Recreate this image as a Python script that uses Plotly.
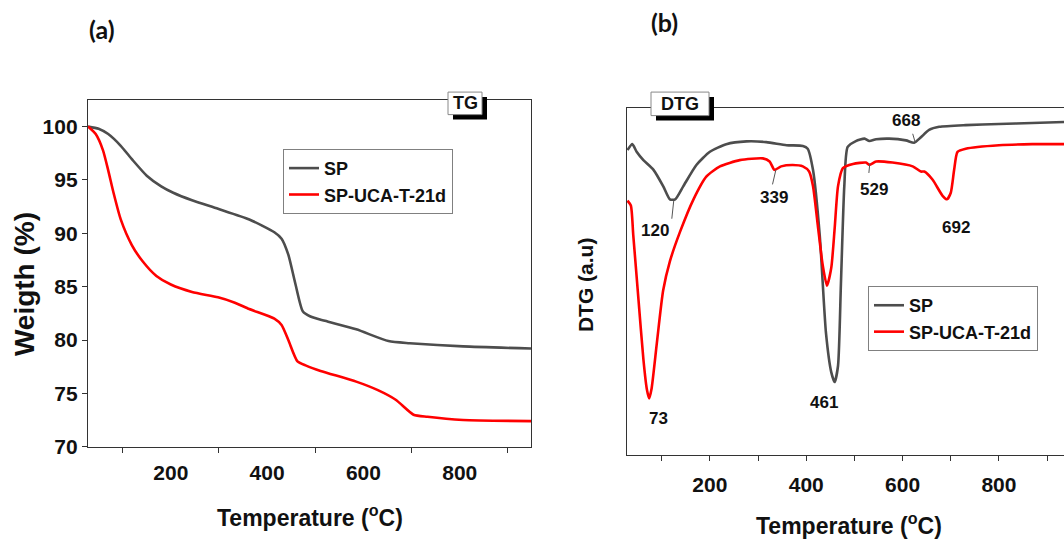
import plotly.graph_objects as go

# ---------------- data ----------------
# (a) TG curves: temperature (°C) vs weight (%)
temp_tg_sp = [28, 50, 70, 96, 120, 150, 180, 205, 244, 298, 363, 415, 430, 444, 459, 474, 490, 520, 585, 652,
              696, 807, 948]
weight_sp = [100, 99.8, 99.3, 98.2, 96.9, 95.4, 94.4, 93.8, 93.1, 92.3, 91.3, 90.1, 89.5, 88.0, 85.2, 82.7,
             82.2, 81.8, 81.0, 79.9, 79.7, 79.4, 79.2]

temp_tg_uca = [28, 44, 59, 70, 81, 96, 119, 141, 170, 200, 244, 298, 333, 363, 415, 430, 444, 463, 481, 511,
               585, 630, 667, 704, 733, 807, 948]
weight_uca = [100, 99.3, 97.8, 95.9, 93.8, 91.3, 88.9, 87.4, 86.0, 85.2, 84.5, 84.0, 83.5, 82.9, 82.0, 81.4,
              80.0, 78.0, 77.6, 77.1, 76.1, 75.3, 74.4, 73.0, 72.8, 72.5, 72.4]

# (b) DTG curves: temperature (°C) vs DTG (arbitrary units)
temp_dtg_sp = [29, 39, 48, 62, 83, 103, 117, 128, 145, 172, 200, 234, 276, 317, 359, 393, 403, 414, 428, 441,
               452, 459, 466, 472, 479, 486, 503, 521, 531, 545, 572, 607, 624, 638, 655, 676, 731, 800, 869, 935]
dtg_sp = [87.8, 89.5, 87.3, 84.9, 82.1, 77.4, 73.6, 73.6, 77.4, 83.5, 87.3, 89.5, 90.3, 90.1, 89.2, 89.0, 88.2,
          82.1, 63.3, 35.0, 23.7, 20.9, 25.6, 49.2, 77.4, 88.7, 90.4, 91.1, 90.4, 90.9, 91.1, 90.6, 89.9, 91.5,
          93.6, 94.5, 95.0, 95.3, 95.6, 95.9]

temp_dtg_uca = [29, 36, 41, 52, 62, 69, 74, 79, 90, 103, 117, 138, 166, 193, 221, 262, 310, 324, 334, 348, 372,
                393, 406, 414, 424, 434, 443, 452, 459, 466, 476, 497, 524, 531, 545, 579, 621, 638, 645, 662,
                683, 692, 700, 707, 714, 731, 800, 869, 935]
dtg_uca = [73.2, 71.8, 63.3, 44.4, 27.5, 19.0, 16.2, 19.0, 32.2, 47.3, 55.7, 64.2, 73.6, 80.2, 83.1, 84.9, 85.4,
           84.5, 82.1, 83.1, 83.5, 83.1, 81.6, 77.4, 66.1, 54.8, 48.7, 53.9, 65.2, 77.4, 82.6, 83.8, 84.2, 83.5,
           84.5, 84.2, 83.1, 81.6, 81.6, 79.3, 74.6, 73.6, 75.5, 82.1, 87.3, 88.2, 89.2, 89.5, 89.5]

series_names = ["SP", "SP-UCA-T-21d"]
x_tick_vals = [200, 400, 600, 800]
x_minor_vals = [100, 300, 500, 700, 900]
y_tick_vals = [70, 75, 80, 85, 90, 95, 100]

peak_labels = ["120", "73", "339", "461", "529", "668", "692"]
peak_x = [86, 93, 334, 436, 541, 607, 710]
peak_y = [64.7, 10.4, 74.1, 15.0, 76.5, 96.2, 65.6]

# ---------------- style ----------------
W, H = 1064, 540
GRAY = "#4d4d4d"
RED = "#ff0000"
AX = "#333333"
FONT = "Arial, 'Liberation Sans', sans-serif"
TAGFONT = "Lato, 'Open Sans', sans-serif"


def px(x):
    return x / W


def py(y):
    return 1 - y / H


fig = go.Figure()

fig.add_trace(go.Scatter(x=temp_tg_sp, y=weight_sp, mode="lines", name=series_names[0],
                         line=dict(color=GRAY, width=2.6, shape="spline", smoothing=0.6),
                         xaxis="x", yaxis="y", legend="legend"))
fig.add_trace(go.Scatter(x=temp_tg_uca, y=weight_uca, mode="lines", name=series_names[1],
                         line=dict(color=RED, width=2.6, shape="spline", smoothing=0.6),
                         xaxis="x", yaxis="y", legend="legend"))
fig.add_trace(go.Scatter(x=temp_dtg_sp, y=dtg_sp, mode="lines", name=series_names[0],
                         line=dict(color=GRAY, width=2.6, shape="spline", smoothing=0.6),
                         xaxis="x2", yaxis="y2", legend="legend2"))
fig.add_trace(go.Scatter(x=temp_dtg_uca, y=dtg_uca, mode="lines", name=series_names[1],
                         line=dict(color=RED, width=2.6, shape="spline", smoothing=0.6),
                         xaxis="x2", yaxis="y2", legend="legend2"))

tickfont = dict(family=FONT, size=21, color="#111", weight="bold")

fig.update_layout(
    width=W, height=H,
    margin=dict(l=0, r=0, t=0, b=0),
    paper_bgcolor="white", plot_bgcolor="white",
    font=dict(family=FONT, color="#111"),
    xaxis=dict(domain=[px(88), px(531)], anchor="y", range=[28, 948],
               tickvals=x_tick_vals, ticks="outside", ticklen=5, tickcolor="rgba(0,0,0,0)",
               tickfont=tickfont, showgrid=False, zeroline=False, ticklabelstandoff=2,
               showline=True, linecolor=AX, linewidth=1.3, mirror=True,
               minor=dict(tickvals=x_minor_vals, ticks="outside", ticklen=5, tickcolor=AX, showgrid=False)),
    yaxis=dict(domain=[py(456), py(102)], anchor="x", range=[70, 102.5],
               tickvals=y_tick_vals, ticks="outside", ticklen=5, tickcolor=AX,
               tickfont=tickfont, showgrid=False, zeroline=False,
               showline=True, linecolor=AX, linewidth=1.3, mirror=True),
    xaxis2=dict(domain=[px(627), 1.0], anchor="y2", range=[28, 935],
                tickvals=x_tick_vals, ticks="outside", ticklen=5, tickcolor=AX,
                tickfont=tickfont, showgrid=False, zeroline=False, ticklabelstandoff=6,
                showline=True, linecolor=AX, linewidth=1.3, mirror=True,
                minor=dict(tickvals=x_minor_vals, ticks="outside", ticklen=5, tickcolor=AX, showgrid=False)),
    yaxis2=dict(domain=[py(464), py(110)], anchor="x2", range=[0, 100],
                showticklabels=False, ticks="", showgrid=False, zeroline=False,
                showline=True, linecolor=AX, linewidth=1.3, mirror=False),
    legend=dict(x=px(283), y=py(152), xanchor="left", yanchor="top",
                bgcolor="white", bordercolor="#808080", borderwidth=1,
                font=dict(family=FONT, size=18, color="#111", weight="bold"),
                tracegroupgap=0),
    legend2=dict(x=px(868), y=py(292), xanchor="left", yanchor="top",
                 bgcolor="white", bordercolor="#808080", borderwidth=1,
                 font=dict(family=FONT, size=18, color="#111", weight="bold"),
                 tracegroupgap=0),
    showlegend=True,
)

shapes = []
annotations = []

# TG / DTG label boxes with drop shadow
for (x0, y0, x1, y1, text) in [(448, 94, 482, 117, "TG"), (651, 94, 709, 118, "DTG")]:
    shapes.append(dict(type="rect", xref="paper", yref="paper", x0=px(x0 + 5), x1=px(x1 + 5),
                       y0=py(y1 + 5), y1=py(y0 + 5), fillcolor="black", line=dict(width=0), layer="above"))
    shapes.append(dict(type="rect", xref="paper", yref="paper", x0=px(x0), x1=px(x1),
                       y0=py(y1), y1=py(y0), fillcolor="white", line=dict(color="#888", width=1), layer="above"))
    annotations.append(dict(xref="paper", yref="paper", x=px((x0 + x1) / 2), y=py((y0 + y1) / 2),
                            text=text, showarrow=False, xanchor="center", yanchor="middle",
                            font=dict(family=FONT, size=18, color="#111", weight="bold")))

# leader lines of peak labels (panel b)
leaders = [(121, 68.0, 125, 73.2), (330, 77.9, 337, 82.1), (530, 81.2, 532, 84.0), (621, 92.5, 626, 90.1)]
for (a0, b0, a1, b1) in leaders:
    shapes.append(dict(type="line", xref="x2", yref="y2", x0=a0, y0=b0, x1=a1, y1=b1,
                       line=dict(color="#555", width=1)))

for t, xv, yv in zip(peak_labels, peak_x, peak_y):
    annotations.append(dict(xref="x2", yref="y2", x=xv, y=yv, text=t, showarrow=False,
                            xanchor="center", yanchor="middle",
                            font=dict(family=FONT, size=17, color="#111", weight="bold")))

# panel tags
annotations.append(dict(xref="paper", yref="paper", x=px(102), y=py(30), text="(a)", showarrow=False,
                        xanchor="center", yanchor="middle",
                        font=dict(family=TAGFONT, size=25, color="#111", weight="bold")))
annotations.append(dict(xref="paper", yref="paper", x=px(664), y=py(22), text="(b)", showarrow=False,
                        xanchor="center", yanchor="middle",
                        font=dict(family=TAGFONT, size=25, color="#111", weight="bold")))

# axis titles
annotations.append(dict(xref="paper", yref="paper", x=px(24), y=py(290), text="Weigth (%)", textangle=-90,
                        showarrow=False, xanchor="center", yanchor="middle",
                        font=dict(family=FONT, size=28, color="#111", weight="bold")))
annotations.append(dict(xref="paper", yref="paper", x=px(310), y=py(527), text="Temperature (<sup>o</sup>C)",
                        showarrow=False, xanchor="center", yanchor="middle",
                        font=dict(family=FONT, size=23, color="#111", weight="bold")))
annotations.append(dict(xref="paper", yref="paper", x=px(849), y=py(535), text="Temperature (<sup>o</sup>C)",
                        showarrow=False, xanchor="center", yanchor="middle",
                        font=dict(family=FONT, size=23, color="#111", weight="bold")))
annotations.append(dict(xref="paper", yref="paper", x=px(585), y=py(291), text="DTG (a.u)", textangle=-90,
                        showarrow=False, xanchor="center", yanchor="middle",
                        font=dict(family=FONT, size=21, color="#111", weight="bold")))

fig.update_layout(shapes=shapes, annotations=annotations)

fig.write_html("out.html")
